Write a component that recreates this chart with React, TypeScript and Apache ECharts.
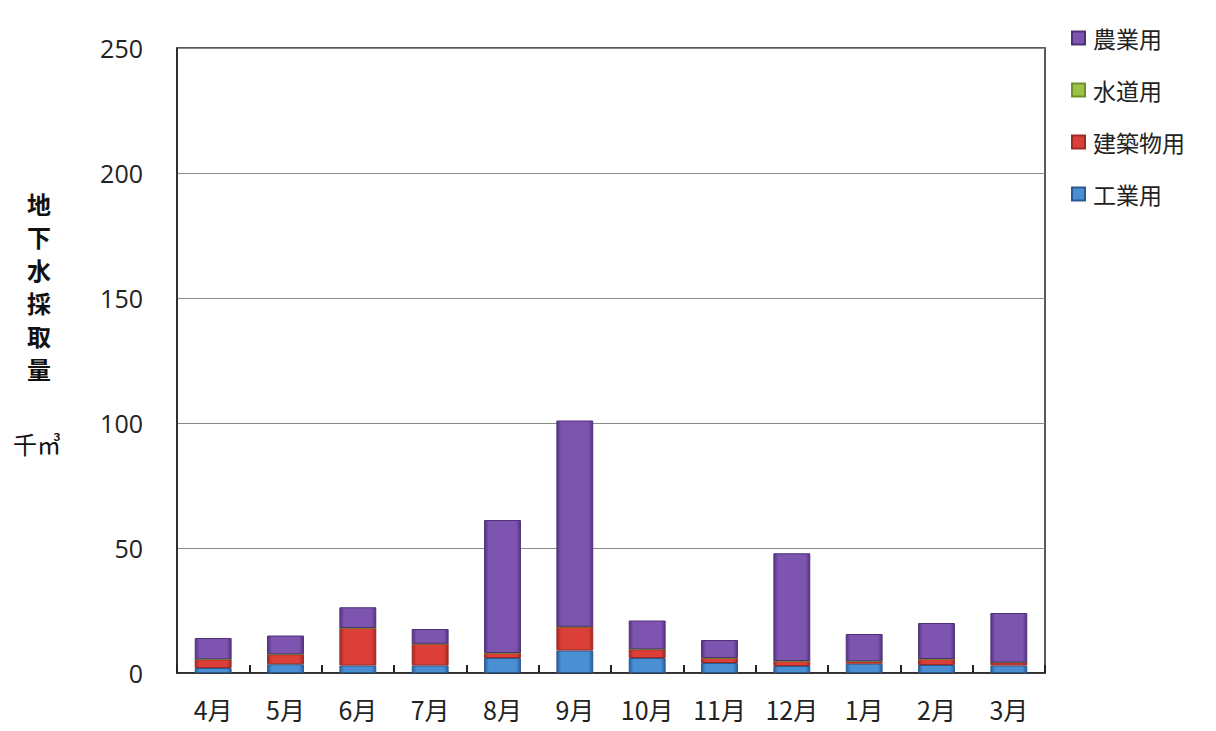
import React, { useEffect, useRef } from "react";
import * as echarts from "echarts";

const months = ["4月", "5月", "6月", "7月", "8月", "9月", "10月", "11月", "12月", "1月", "2月", "3月"];
const industry = [2, 3.5, 3, 3, 6, 9, 6, 4, 2.8, 3.7, 3.2, 3];
const building = [3.5, 4, 15, 8.7, 2, 9.5, 3.5, 2, 2, 1, 2.4, 1.2];
const water = [0, 0, 0, 0, 0, 0, 0, 0, 0, 0, 0, 0];
const agriculture = [8.5, 7.5, 8.3, 5.9, 53.2, 82.5, 11.5, 7.2, 43.1, 10.9, 14.4, 19.8];
const yTicks = [0, 50, 100, 150, 200, 250];

const JP = '"Noto Sans CJK JP", "Open Sans", sans-serif';

function grad(dark: string, light: string) {
  return new echarts.graphic.LinearGradient(0, 0, 1, 0, [
    { offset: 0, color: dark },
    { offset: 0.12, color: light },
    { offset: 0.5, color: light },
    { offset: 0.88, color: light },
    { offset: 1, color: dark },
  ]);
}

export default function App() {
  const ref = useRef<HTMLDivElement>(null);
  useEffect(() => {
    if (!ref.current) return;
    const chart = echarts.init(ref.current, null, { renderer: "svg" });
    const mk = (name: string, data: number[], dark: string, light: string, border: string) => ({
      name,
      type: "bar",
      stack: "total",
      data,
      barWidth: "51%",
      itemStyle: { color: grad(dark, light), borderColor: border, borderWidth: 1 },
    });
    chart.setOption({
      animation: false,
      backgroundColor: "#ffffff",
      grid: {
        left: 177,
        right: 171,
        top: 48,
        bottom: 58,
        show: true,
        borderColor: "#222",
        borderWidth: 1.5,
      },
      legend: {
        orient: "vertical",
        left: 1066,
        top: 21,
        itemWidth: 13,
        itemHeight: 13,
        itemGap: 28,
        icon: "rect",
        data: ["農業用", "水道用", "建築物用", "工業用"],
        textStyle: { fontFamily: JP, fontSize: 23, color: "#222", lineHeight: 24, padding: [0, 0, 0, 3] },
      },
      xAxis: {
        type: "category",
        data: months,
        axisLine: { lineStyle: { color: "#222", width: 1.5 } },
        axisTick: { show: true, inside: true, length: 8, lineStyle: { color: "#222", width: 2 } },
        axisLabel: { fontFamily: JP, fontSize: 25, color: "#222", margin: 23 },
      },
      yAxis: {
        type: "value",
        min: 0,
        max: 250,
        interval: 50,
        axisLine: { show: true, lineStyle: { color: "#222", width: 1.5 } },
        axisTick: { show: false },
        splitLine: { lineStyle: { color: "#8a8a8a", width: 1 } },
        axisLabel: {
          fontFamily: '"Open Sans", sans-serif',
          fontSize: 25,
          color: "#222",
          margin: 34,
          formatter: (v: number) => (yTicks.includes(v) ? String(v) : ""),
        },
      },
      graphic: [
        {
          type: "text",
          left: 27,
          top: 187,
          style: {
            text: "地\n下\n水\n採\n取\n量",
            font: `bold 24px ${JP}`,
            lineHeight: 33,
            fill: "#111",
            align: "center",
          },
        },
        {
          type: "text",
          left: 13,
          top: 431,
          style: { text: "千㎥", font: `24px ${JP}`, fill: "#111" },
        },
      ],
      series: [
        mk("工業用", industry, "#2a5f9e", "#4a8fd4", "#2b5a90"),
        mk("建築物用", building, "#a32824", "#dc3f38", "#9c2a26"),
        mk("水道用", water, "#6f8f2a", "#9cc444", "#6f8f2a"),
        mk("農業用", agriculture, "#553482", "#7d55b0", "#4f3178"),
      ],
    });
    return () => chart.dispose();
  }, []);
  return <div ref={ref} style={{ position: "fixed", left: 0, top: 0, width: 1216, height: 731 }} />;
}
